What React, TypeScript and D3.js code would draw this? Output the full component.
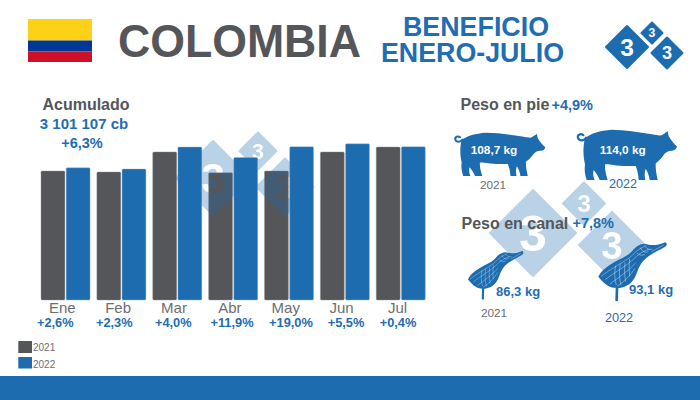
import React from "react";
import * as d3 from "d3";

const months = ["Ene", "Feb", "Mar", "Abr", "May", "Jun", "Jul"];
const values2021 = [392, 389, 450, 387, 392, 450, 465];
const values2022 = [402, 398, 465, 433, 466, 475, 466];
const changes = ["+2,6%", "+2,3%", "+4,0%", "+11,9%", "+19,0%", "+5,5%", "+0,4%"];
const seriesNames = ["2021", "2022"];

const GRAY = "#54565a";
const BLUE = "#1d6cb0";
const TEXT_BLUE = "#1f6db2";
const FONT = "'Liberation Sans', Arial, sans-serif";

const changeCenters = [55.3, 114.3, 173.3, 232, 291, 346, 398];

const x0 = d3.scaleBand<string>().domain(months).range([41, 425.3]).paddingInner(0.122).paddingOuter(0);
const x1 = d3.scaleBand<string>().domain(seriesNames).range([0, x0.bandwidth()]).paddingInner(0.05);
const y = d3.scaleLinear().domain([0, 500]).range([300, 135.5]);

type D = { cx: number; cy: number; r: number };
const logoHeader: D[] = [{ cx: 627, cy: 47, r: 21 }, { cx: 652, cy: 33, r: 10.5 }, { cx: 667, cy: 53, r: 15.5 }];
const mark1: D[] = [{ cx: 213, cy: 178, r: 37 }, { cx: 258, cy: 151, r: 18.5 }, { cx: 285, cy: 187, r: 28.5 }];
const mark2: D[] = [{ cx: 533, cy: 233, r: 43 }, { cx: 584, cy: 203.5, r: 21 }, { cx: 612, cy: 245, r: 33 }];

const diamond = (d: D) => {
  const p = d3.path();
  p.moveTo(d.cx, d.cy - d.r);
  p.lineTo(d.cx + d.r, d.cy);
  p.lineTo(d.cx, d.cy + d.r);
  p.lineTo(d.cx - d.r, d.cy);
  p.closePath();
  return p.toString();
};

function Mark({ id, items, opacity }: { id: string; items: D[]; opacity: number }) {
  return (
    <g>
      <mask id={id} maskUnits="userSpaceOnUse" x="0" y="0" width="700" height="400">
        <rect width="700" height="400" fill="#fff" />
        {items.map((d, i) => (
          <text key={i} x={d.cx} y={d.cy + d.r * 0.41} textAnchor="middle" fontFamily={FONT} fontWeight="700" fontSize={d.r * 1.17} fill="#000">3</text>
        ))}
      </mask>
      <g mask={`url(#${id})`} opacity={opacity}>
        {items.map((d, i) => (
          <path key={i} d={diamond(d)} fill={BLUE} stroke={BLUE} strokeWidth={2} strokeLinejoin="round" />
        ))}
      </g>
    </g>
  );
}

const PIG =
  "M30,58 C48,42 75,34 110,31 C150,31 190,39 230,45 C242,47 250,49 258,49 C266,45 272,41 278,35 C279,41 280,46 281,51 C287,62 296,76 306,84 C305,91 300,96 290,97 C280,98 274,100 268,108 C262,118 252,130 242,138 C241,155 245,174 248,190 L224,190 C222,174 217,162 212,154 C208,166 209,180 211,190 L191,190 C190,174 187,158 182,146 C160,146 130,146 105,141 C98,140 93,140 90,141 C89,156 93,174 98,190 L74,190 C69,176 62,166 56,158 C53,168 55,180 59,190 L35,190 C29,172 28,154 30,140 C25,118 23,85 30,58 Z";
const TAIL = "M33,56 C27,67 12,67 9,56 C7,46 18,41 25,48";

const HAM =
  "M10,125 C20,104 40,92 60,80 C78,70 96,64 108,52 C118,40 130,26 150,26 C165,32 190,30 198,26 L212,22 C217,26 216,32 209,36 C192,46 170,56 155,68 C142,78 132,94 126,112 C118,138 102,154 78,158 C62,160 48,158 40,153 C28,146 18,134 10,125 Z";
const HAM_LINES = [
  "M18,124 C44,104 74,88 104,68 C118,56 128,42 150,34",
  "M30,134 C58,112 90,96 114,74 C128,60 140,50 164,42",
  "M44,148 C70,128 98,110 122,84",
  "M66,154 C86,142 106,122 120,100",
  "M62,92 C58,112 58,132 64,150",
  "M76,86 C72,106 72,128 78,150",
  "M90,82 C88,102 88,120 92,140",
  "M104,72 C102,92 102,106 104,124",
  "M126,54 C134,62 142,62 150,58",
  "M136,38 C142,50 150,54 160,50",
  "M150,30 C154,42 162,46 172,42",
  "M170,50 C180,44 192,38 206,30",
];

function Pig({ transform }: { transform: string }) {
  return (
    <g transform={transform}>
      <path d={PIG} fill={BLUE} />
      <path d={TAIL} fill="none" stroke={BLUE} strokeWidth={7} strokeLinecap="round" />
    </g>
  );
}

function Ham({ transform }: { transform: string }) {
  return (
    <g transform={transform}>
      <path d={HAM} fill={BLUE} />
      {HAM_LINES.map((d, i) => (
        <path key={i} d={d} fill="none" stroke="#fff" strokeWidth={1.6} opacity={0.7} />
      ))}
      <path d="M66,158 L65,195" stroke={BLUE} strokeWidth={8} strokeLinecap="round" />
    </g>
  );
}

const T = (p: React.SVGProps<SVGTextElement>) => <text fontFamily={FONT} {...p} />;

export default function App() {
  return (
    <svg width={700} height={400} viewBox="0 0 700 400" style={{ position: "absolute", left: 0, top: 0, background: "#fff" }}>
      {/* header */}
      <rect x={28} y={19} width={64} height={21.5} fill="#fdd116" />
      <rect x={28} y={40.5} width={64} height={11} fill="#003893" />
      <rect x={28} y={51.5} width={64} height={10.5} fill="#ce1126" />
      <T x={118} y={57} fontSize={46} fontWeight={700} fill={GRAY} textLength={243} lengthAdjust="spacingAndGlyphs">COLOMBIA</T>
      <T x={476} y={36} fontSize={27} fontWeight={700} fill={TEXT_BLUE} textAnchor="middle" textLength={146} lengthAdjust="spacingAndGlyphs">BENEFICIO</T>
      <T x={472.5} y={62} fontSize={27} fontWeight={700} fill={TEXT_BLUE} textAnchor="middle" textLength={183} lengthAdjust="spacingAndGlyphs">ENERO-JULIO</T>
      <g>
        {logoHeader.map((d, i) => (
          <path key={i} d={diamond(d)} fill={BLUE} stroke={BLUE} strokeWidth={2} strokeLinejoin="round" />
        ))}
        {logoHeader.map((d, i) => (
          <T key={i} x={d.cx} y={d.cy + d.r * 0.41} textAnchor="middle" fontWeight={700} fontSize={d.r * 1.17} fill="#fff">3</T>
        ))}
      </g>

      {/* 2021 bars sit under the watermark, 2022 bars above it */}
      {months.map((m, i) => (
        <rect key={m} x={x0(m)! + x1("2021")!} y={y(values2021[i])} width={x1.bandwidth()} height={y(0) - y(values2021[i])} rx={1.2} fill={GRAY} stroke="#8f9194" strokeWidth={0.4} />
      ))}
      <Mark id="wm1" items={mark1} opacity={0.3} />
      <Mark id="wm2" items={mark2} opacity={0.3} />
      {months.map((m, i) => (
        <rect key={m} x={x0(m)! + x1("2022")!} y={y(values2022[i])} width={x1.bandwidth()} height={y(0) - y(values2022[i])} rx={1.2} fill={BLUE} stroke="#8db6d8" strokeWidth={0.4} />
      ))}

      <T x={86} y={110} fontSize={16} fontWeight={700} fill={GRAY} textAnchor="middle">Acumulado</T>
      <T x={84} y={129} fontSize={15} fontWeight={700} fill={TEXT_BLUE} textAnchor="middle">3 101 107 cb</T>
      <T x={82} y={148} fontSize={14.5} fontWeight={700} fill={TEXT_BLUE} textAnchor="middle">+6,3%</T>

      {months.map((m) => (
        <T key={m} x={x0(m)! + x0.bandwidth() / 2 - 3.3} y={313} fontSize={15} fill="#6d6e71" textAnchor="middle">{m}</T>
      ))}
      {changes.map((c, i) => (
        <T key={c} x={changeCenters[i]} y={327} fontSize={12.8} fontWeight={700} fill={TEXT_BLUE} textAnchor="middle">{c}</T>
      ))}

      {/* legend */}
      <rect x={18.3} y={341} width={13.7} height={12} fill={GRAY} />
      <rect x={18.3} y={357} width={13.7} height={11.5} fill={BLUE} />
      <T x={33} y={351} fontSize={10} fill="#6d6e71">{seriesNames[0]}</T>
      <T x={33} y={367.5} fontSize={10} fill="#6d6e71">{seriesNames[1]}</T>

      {/* live weight */}
      <T x={460.5} y={110} fontSize={16} fontWeight={700} fill={GRAY}>Peso en pie</T>
      <T x={551.5} y={110} fontSize={14.5} fontWeight={700} fill={TEXT_BLUE}>+4,9%</T>
      <Pig transform="translate(452.6,124.3) scale(0.303,0.272)" />
      <Pig transform="translate(575,120) scale(0.3333,0.3158)" />
      <T x={494} y={154} fontSize={11.8} fontWeight={700} fill="#fff" textAnchor="middle">108,7 kg</T>
      <T x={622.7} y={154} fontSize={11.8} fontWeight={700} fill="#fff" textAnchor="middle">114,0 kg</T>
      <T x={493} y={189} fontSize={11.8} fill="#6d6e71" textAnchor="middle">{seriesNames[0]}</T>
      <T x={623} y={188} fontSize={12.7} fill={TEXT_BLUE} textAnchor="middle">{seriesNames[1]}</T>

      {/* carcass weight */}
      <T x={461.5} y={228.5} fontSize={16} fontWeight={700} fill={GRAY}>Peso en canal</T>
      <T x={572.5} y={227.5} fontSize={14.5} fontWeight={700} fill={TEXT_BLUE}>+7,8%</T>
      <Ham transform="translate(465.3,245) scale(0.27,0.275)" />
      <Ham transform="translate(595,235) scale(0.3333)" />
      <T x={496} y={296} fontSize={13} fontWeight={700} fill={TEXT_BLUE}>86,3 kg</T>
      <T x={629} y={294} fontSize={13} fontWeight={700} fill={TEXT_BLUE}>93,1 kg</T>
      <T x={494} y={317} fontSize={11.8} fill="#6d6e71" textAnchor="middle">{seriesNames[0]}</T>
      <T x={619} y={322} fontSize={12.7} fill={TEXT_BLUE} textAnchor="middle">{seriesNames[1]}</T>

      <rect x={0} y={376} width={700} height={24} fill={BLUE} />
    </svg>
  );
}
